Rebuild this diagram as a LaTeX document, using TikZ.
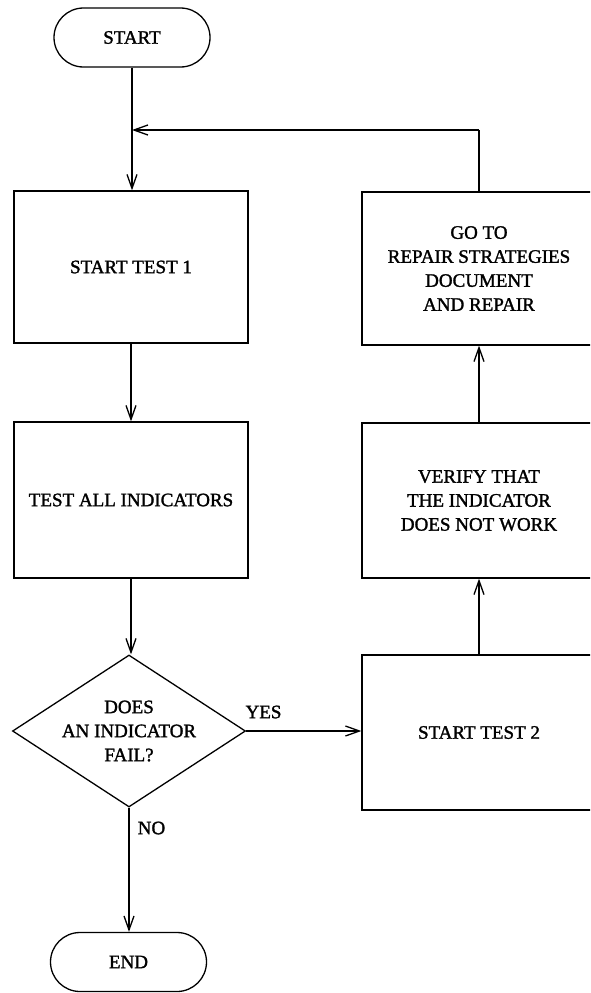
\documentclass[tikz,border=0pt]{standalone}
\usepackage{fontspec}
\setmainfont{Liberation Serif}[BoldFont={Liberation Serif},BoldFeatures={FakeBold=1.5}]
\usetikzlibrary{shapes.geometric,shapes.misc,arrows.meta}
\begin{document}
\begin{tikzpicture}[x=1pt,y=-1pt,
  every node/.style={font=\fontsize{19}{24}\selectfont\bfseries, align=center, inner sep=0pt},
  boxnode/.style={draw, line width=1.3pt, minimum width=234pt},
  term/.style={draw, line width=1.3pt, rounded rectangle, minimum width=156pt, minimum height=59pt},
  decis/.style={draw, line width=1.3pt, diamond, shape aspect=1.53, minimum width=233pt, minimum height=152pt},
  flow/.style={line width=1.3pt, -{Straight Barb[length=14pt,width=10pt,line width=1.3pt]}},
  plainline/.style={line width=1.3pt}
]
\useasboundingbox (0,0) rectangle (590,993);
\clip (0,0) rectangle (590,993);
\fill[white] (0,0) rectangle (590,993);

\node[term] (start) at (132,37.5) {START};
\node[boxnode, minimum height=152pt] (t1) at (131,267) {START TEST 1};
\node[boxnode, minimum height=156pt] (all) at (131,500) {TEST ALL INDICATORS};
\node[decis] (dec) at (129,731) {DOES\\AN INDICATOR\\FAIL?};
\node[term] (end) at (128.5,962) {END};

\node[boxnode, minimum height=153pt] (goto) at (479,268.5) {GO TO\\REPAIR STRATEGIES\\DOCUMENT\\AND REPAIR};
\node[boxnode, minimum height=155pt] (ver) at (479,500.5) {VERIFY THAT\\THE INDICATOR\\DOES NOT WORK};
\node[boxnode, minimum height=155pt] (t2) at (479,732.5) {START TEST 2};

\coordinate (j) at (132,130);
\coordinate (up) at (479,130);

\draw[flow] (start.south) -- (start.south |- t1.north);
\draw[flow] (t1.south) -- (t1.south |- all.north);
\draw[flow] (all.south) -- (all.south |- dec.north);
\draw[flow] (dec.south) -- (dec.south |- end.north);
\draw[flow] (dec.east) -- (t2.west |- dec.east);
\draw[flow] (t2.north) -- (ver.south);
\draw[flow] (ver.north) -- (goto.south);
\draw[plainline] (goto.north) -- (up);
\draw[flow] (up) -- (j);

\node (yes) at (263.5,712) {YES};
\node (no) at (151.5,828) {NO};
\end{tikzpicture}
\end{document}
